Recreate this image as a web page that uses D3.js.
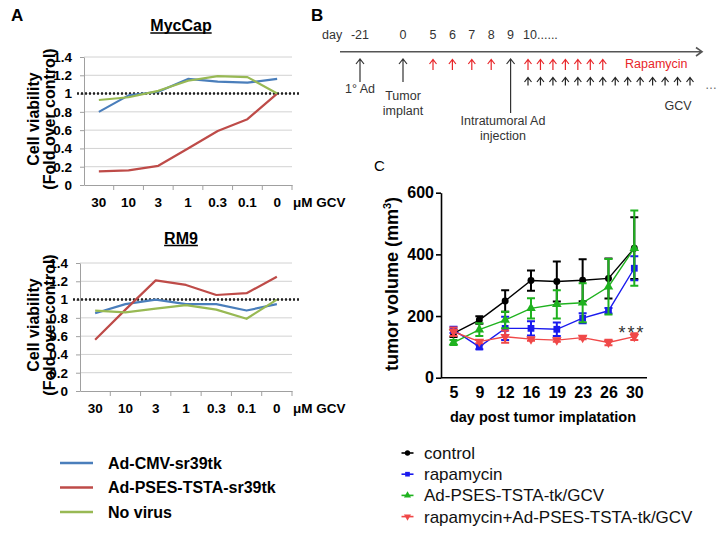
<!DOCTYPE html>
<html>
<head>
<meta charset="utf-8">
<script src="https://cdn.jsdelivr.net/npm/d3@7"></script>
<style>
  body { margin: 0; background: #fff; }
  svg { display: block; font-family: "Liberation Sans", Arial, sans-serif; }
</style>
</head>
<body>
<div id="fig"></div>
<script>
// ---- panel A data (cell viability, fold over control)
var doses = ["30", "10", "3", "1", "0.3", "0.1", "0"];
var yTicksA = [0, 0.2, 0.4, 0.6, 0.8, 1, 1.2, 1.4];
var mycCMV = [0.80, 0.98, 1.02, 1.16, 1.13, 1.12, 1.16];
var mycPSES = [0.15, 0.16, 0.21, 0.40, 0.59, 0.72, 1.00];
var mycNoVirus = [0.93, 0.96, 1.03, 1.14, 1.19, 1.18, 1.00];
var rm9CMV = [0.85, 0.95, 1.00, 0.95, 0.95, 0.88, 0.95];
var rm9PSES = [0.56, 0.89, 1.21, 1.16, 1.05, 1.07, 1.25];
var rm9NoVirus = [0.88, 0.86, 0.90, 0.94, 0.89, 0.79, 1.00];
var legendA = ["Ad-CMV-sr39tk", "Ad-PSES-TSTA-sr39tk", "No virus"];
var colorsA = ["#4a7ebb", "#be4b48", "#98b954"];

// ---- panel B schedule
var dayLabels = [-21, 0, 5, 6, 7, 8, 9, 10];
var rapaDays = [5, 6, 7, 8];
var rapaAfter = 7;   // daily rapamycin arrows from day 10
var gcvAfter = 14;   // daily GCV arrows from day 10

// ---- panel C data (tumor volume, mm3)
var days = ["5", "9", "12", "16", "19", "23", "26", "30"];
var yTicksC = [0, 200, 400, 600];
var control = [144, 187, 249, 315, 312, 316, 322, 420];
var controlErr = [12, 12, 35, 33, 65, 68, 65, 100];
var rapamycin = [155, 100, 160, 160, 157, 193, 217, 355];
var rapamycinErr = [10, 8, 38, 23, 22, 16, 9, 39];
var tkGcv = [114, 156, 187, 225, 238, 243, 295, 420];
var tkGcvErr = [8, 21, 27, 33, 46, 63, 90, 122];
var combo = [149, 117, 133, 125, 122, 130, 114, 133];
var comboErr = [14, 5, 20, 5, 5, 5, 9, 11];
var groupsC = ["control", "rapamycin", "Ad-PSES-TSTA-tk/GCV", "rapamycin+Ad-PSES-TSTA-tk/GCV"];
var colorsC = ["#000000", "#1a1aee", "#1fb21f", "#f04848"];

var svg = d3.select("#fig").append("svg")
    .attr("width", 722)
    .attr("height", 533);

// panel letters
svg.append("text").attr("x", 11).attr("y", 21).text("A")
    .style("font-size", "17px").style("font-weight", "bold");
svg.append("text").attr("x", 311).attr("y", 21).text("B")
    .style("font-size", "17px").style("font-weight", "bold");
svg.append("text").attr("x", 374).attr("y", 171).text("C")
    .style("font-size", "15px");

// ================= panel A =================
function viability(left, right, top, bottom, title, titleBase, series) {
    var x = d3.scaleBand().domain(doses).range([left, right]);
    var y = d3.scaleLinear().domain([0, 1.4]).range([bottom, top]);
    var g = svg.append("g");

    // gridlines
    g.selectAll(".grid")
        .data(yTicksA.filter(function (d) { return d > 0; }))
        .enter().append("line")
        .attr("x1", left).attr("x2", right)
        .attr("y1", function (d) { return y(d); })
        .attr("y2", function (d) { return y(d); })
        .attr("stroke", "#d2d2d2");

    // y axis
    var ya = g.append("g")
        .attr("transform", "translate(" + left + ",0)")
        .call(d3.axisLeft(y).tickValues(yTicksA).tickFormat(d3.format("~g"))
            .tickSize(4).tickSizeOuter(0).tickPadding(8));
    ya.selectAll("path, line").attr("stroke", "#a0a0a0");
    ya.selectAll("text").style("font-size", "13.5px").style("font-weight", "bold").attr("fill", "#000");

    // x axis, ticks between categories
    var xa = g.append("g")
        .attr("transform", "translate(0," + bottom + ")")
        .call(d3.axisBottom(x).tickSize(0).tickPadding(12));
    xa.select(".domain").attr("stroke", "#a0a0a0");
    xa.selectAll("text").style("font-size", "13.5px").style("font-weight", "bold").attr("fill", "#000");
    g.selectAll(".xt")
        .data(doses.slice(1).concat(["end"]))
        .enter().append("line")
        .attr("x1", function (d) { return d == "end" ? right : x(d); })
        .attr("x2", function (d) { return d == "end" ? right : x(d); })
        .attr("y1", bottom).attr("y2", bottom + 5)
        .attr("stroke", "#a0a0a0");

    g.append("text").attr("x", right + 1).attr("y", bottom + 21.5)
        .text("\u03bcM GCV")
        .style("font-size", "13.5px").style("font-weight", "bold");

    // dotted reference at 1
    g.append("line")
        .attr("x1", left - 7).attr("x2", 300)
        .attr("y1", y(1)).attr("y2", y(1))
        .attr("stroke", "#222").attr("stroke-width", 2.4)
        .attr("stroke-dasharray", "2,2");

    // series lines
    var line = d3.line()
        .x(function (d, i) { return x(doses[i]) + x.bandwidth() / 2; })
        .y(function (d) { return y(d); });
    series.forEach(function (s, k) {
        g.append("path").datum(s)
            .attr("d", line)
            .attr("fill", "none")
            .attr("stroke", colorsA[k])
            .attr("stroke-width", 2.2)
            .attr("stroke-linejoin", "round");
    });

    // title, underlined
    var t = g.append("text").attr("x", 181).attr("y", titleBase)
        .attr("text-anchor", "middle").text(title)
        .style("font-size", "16px").style("font-weight", "bold");
    var w = t.node().getComputedTextLength();
    g.append("line")
        .attr("x1", 181 - w / 2).attr("x2", 181 + w / 2)
        .attr("y1", titleBase + 2).attr("y2", titleBase + 2)
        .attr("stroke", "#000").attr("stroke-width", 1.5);

    // y title
    var cy = (top + bottom) / 2 - 2;
    var yl = g.append("text")
        .attr("transform", "translate(39," + cy + ")rotate(-90)")
        .attr("text-anchor", "middle")
        .style("font-size", "16px").style("font-weight", "bold");
    yl.append("tspan").attr("x", 0).attr("y", 0).text("Cell viability");
    yl.append("tspan").attr("x", 0).attr("y", 15.5).text("(Fold over control)");
}

viability(84, 292, 57, 185, "MycCap", 31, [mycCMV, mycPSES, mycNoVirus]);
viability(80, 292, 263, 391, "RM9", 243.5, [rm9CMV, rm9PSES, rm9NoVirus]);

// legend A
var legA = svg.append("g").selectAll("g")
    .data(legendA).enter().append("g")
    .attr("transform", function (d, i) { return "translate(60," + (463 + i * 24.5) + ")"; });
legA.append("line").attr("x1", 0).attr("x2", 33)
    .attr("stroke", function (d, i) { return colorsA[i]; })
    .attr("stroke-width", 2.5);
legA.append("text").attr("x", 48).attr("y", 5.5).text(function (d) { return d; })
    .style("font-size", "16px").style("font-weight", "bold");

// ================= panel B =================
var gB = svg.append("g");
var dayX = d3.scaleLinear().domain([-21, 0, 5, 10]).range([360, 403, 433, 530]);
var afterX = d3.scaleLinear().domain([0, 13]).range([528, 690]);
var txt = "#333";

function arrow(x, tail, tip, color, hw) {
    gB.append("path")
        .attr("d", "M" + x + "," + tail + "V" + tip +
            "M" + (x - hw) + "," + (tip + hw + 1) + "L" + x + "," + tip + "L" + (x + hw) + "," + (tip + hw + 1))
        .attr("fill", "none")
        .attr("stroke", color)
        .attr("stroke-width", 1.2);
}

gB.append("text").attr("x", 322).attr("y", 39).text("day")
    .attr("fill", txt).style("font-size", "12.5px");
gB.selectAll(".dl").data(dayLabels).enter().append("text")
    .attr("x", function (d) { return dayX(d); })
    .attr("y", 39)
    .attr("text-anchor", "middle")
    .attr("fill", txt)
    .style("font-size", "12.5px")
    .text(function (d) { return d; });
gB.append("text").attr("x", 537).attr("y", 39).text("......")
    .attr("fill", txt).style("font-size", "12.5px");

// timeline
gB.append("path")
    .attr("d", "M340,51.7H702M696,47.5L702,51.7L696,56")
    .attr("fill", "none").attr("stroke", "#555").attr("stroke-width", 1.6);

arrow(dayX(-21), 82, 59, "#333", 4);
arrow(dayX(0), 82, 59, "#333", 4);
arrow(dayX(9), 113, 59, "#333", 4);
rapaDays.forEach(function (d) { arrow(dayX(d), 70, 59.5, "#e8262a", 3.5); });
d3.range(rapaAfter).forEach(function (i) { arrow(afterX(i), 70, 59.5, "#e8262a", 3.5); });
d3.range(gcvAfter).forEach(function (i) { arrow(afterX(i), 85.5, 77.5, "#222", 3.5); });

gB.append("text").attr("x", 705).attr("y", 89).text("\u2026")
    .attr("fill", "#666").style("font-size", "12px");
gB.append("text").attr("x", 625).attr("y", 68).text("Rapamycin")
    .attr("fill", "#e8262a").style("font-size", "12.5px");
gB.append("text").attr("x", 678).attr("y", 110).attr("text-anchor", "middle").text("GCV")
    .attr("fill", txt).style("font-size", "12.5px");
gB.append("text").attr("x", 345).attr("y", 93).text("1\u00b0 Ad")
    .attr("fill", txt).style("font-size", "12.5px");
gB.append("text").attr("x", dayX(0)).attr("y", 100).attr("text-anchor", "middle").text("Tumor")
    .attr("fill", txt).style("font-size", "12.5px");
gB.append("text").attr("x", dayX(0)).attr("y", 115).attr("text-anchor", "middle").text("implant")
    .attr("fill", txt).style("font-size", "12.5px");
gB.append("text").attr("x", 503).attr("y", 125).attr("text-anchor", "middle").text("Intratumoral Ad")
    .attr("fill", txt).style("font-size", "12.5px");
gB.append("text").attr("x", 503).attr("y", 139.5).attr("text-anchor", "middle").text("injection")
    .attr("fill", txt).style("font-size", "12.5px");

// ================= panel C =================
var gC = svg.append("g");
var xC = d3.scalePoint().domain(days).range([453.5, 634.3]);
var yC = d3.scaleLinear().domain([0, 600]).range([377.7, 192.7]);

var yaC = gC.append("g")
    .attr("transform", "translate(441,0)")
    .call(d3.axisLeft(yC).tickValues(yTicksC).tickSize(5).tickSizeOuter(0).tickPadding(2));
yaC.selectAll("path, line").attr("stroke", "#000").attr("stroke-width", 1.6);
yaC.selectAll("text").style("font-size", "16px").style("font-weight", "bold").attr("fill", "#000");

var xaC = gC.append("g")
    .attr("transform", "translate(0," + yC(0) + ")")
    .call(d3.axisBottom(xC).tickSize(0).tickPadding(9));
xaC.select(".domain").remove();
xaC.selectAll("text").style("font-size", "16px").style("font-weight", "bold").attr("fill", "#000");
gC.append("line").attr("x1", 441).attr("x2", 647)
    .attr("y1", yC(0)).attr("y2", yC(0))
    .attr("stroke", "#000").attr("stroke-width", 1.6);

gC.append("text")
    .attr("transform", "translate(398,284)rotate(-90)")
    .attr("text-anchor", "middle")
    .style("font-size", "18px").style("font-weight", "bold")
    .html('tumor volume (mm<tspan dy="-7" style="font-size:11px">3</tspan><tspan dy="7">)</tspan>');

gC.append("text").attr("x", 543).attr("y", 422).attr("text-anchor", "middle")
    .text("day post tumor implatation")
    .style("font-size", "14.5px").style("font-weight", "bold");

var symbols = [
    d3.symbol().type(d3.symbolCircle).size(38),
    d3.symbol().type(d3.symbolSquare).size(46),
    d3.symbol().type(d3.symbolTriangle).size(40),
    d3.symbol().type(d3.symbolTriangle).size(40)
];
var rotations = [0, 0, 0, 180];
var seriesC = [control, rapamycin, tkGcv, combo];
var errC = [controlErr, rapamycinErr, tkGcvErr, comboErr];

var lineC = d3.line()
    .x(function (d, i) { return xC(days[i]); })
    .y(function (d) { return yC(d); });

seriesC.forEach(function (s, k) {
    var col = colorsC[k];
    var sg = gC.append("g");
    sg.append("path").datum(s).attr("d", lineC)
        .attr("fill", "none").attr("stroke", col).attr("stroke-width", 1.4);
    s.forEach(function (v, i) {
        var cx = xC(days[i]);
        var e = errC[k][i];
        sg.append("path")
            .attr("d", "M" + cx + "," + yC(v - e) + "V" + yC(v + e) +
                "M" + (cx - 4) + "," + yC(v + e) + "H" + (cx + 4) +
                "M" + (cx - 4) + "," + yC(v - e) + "H" + (cx + 4))
            .attr("fill", "none").attr("stroke", col).attr("stroke-width", 2);
        sg.append("path")
            .attr("d", symbols[k])
            .attr("transform", "translate(" + cx + "," + yC(v) + ")rotate(" + rotations[k] + ")")
            .attr("fill", col);
    });
});

gC.append("text").attr("x", 632).attr("y", 339).attr("text-anchor", "middle")
    .text("***").attr("fill", "#333")
    .style("font-size", "18px").style("letter-spacing", "2px");

// legend C
var legC = gC.append("g").selectAll("g")
    .data(groupsC).enter().append("g")
    .attr("transform", function (d, i) { return "translate(407.5," + (453 + i * 21.2) + ")"; });
legC.append("line").attr("x1", -6).attr("x2", 6)
    .attr("stroke", function (d, i) { return colorsC[i]; })
    .attr("stroke-width", 1.6);
legC.append("path")
    .attr("d", function (d, i) { return d3.symbol().type([d3.symbolCircle, d3.symbolSquare, d3.symbolTriangle, d3.symbolTriangle][i]).size(22)(); })
    .attr("transform", function (d, i) { return "rotate(" + rotations[i] + ")"; })
    .attr("fill", function (d, i) { return colorsC[i]; });
legC.append("text").attr("x", 16.5).attr("y", 6).text(function (d) { return d; })
    .attr("fill", "#111").style("font-size", "17px");
</script>
</body>
</html>
